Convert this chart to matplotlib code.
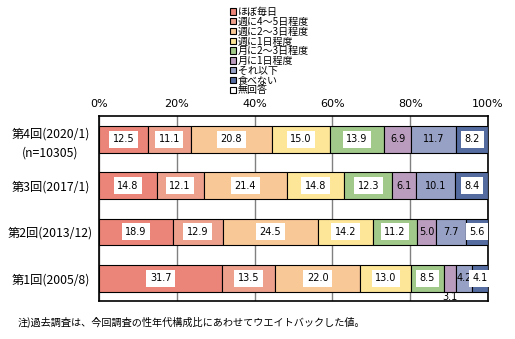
import matplotlib
matplotlib.use('Agg')
import matplotlib.pyplot as plt
import numpy as np

plt.rcParams['font.family'] = ['Noto Sans CJK JP', 'DejaVu Sans']

rounds = ['第1回(2005/8)', '第2回(2013/12)', '第3回(2017/1)', '第4回(2020/1)\n(n=10305)']
categories = ['ほぼ毎日', '週に4～5日程度', '週に2～3日程度', '週に1日程度',
              '月に2～3日程度', '月に1日程度', 'それ以下', '食べない', '無回答']
# rows follow rounds order (bottom to top)
values = [
    [31.7, 13.5, 22.0, 13.0, 8.5, 3.1, 4.2, 4.1, 0.0],
    [18.9, 12.9, 24.5, 14.2, 11.2, 5.0, 7.7, 5.6, 0.0],
    [14.8, 12.1, 21.4, 14.8, 12.3, 6.1, 10.1, 8.4, 0.0],
    [12.5, 11.1, 20.8, 15.0, 13.9, 6.9, 11.7, 8.2, 0.0],
]
colors = ['#EB8579', '#EDA18D', '#F9C897', '#FDE698', '#A0C98A',
          '#BA9CBE', '#97A1C6', '#556CA1', '#FFFFFF']
boxed = [True, True, True, True, True, False, False, True, False]
note = '注)過去調査は、今回調査の性年代構成比にあわせてウエイトバックした値。'

fig = plt.figure(figsize=(5.15, 3.39), dpi=100)
ax = fig.add_axes([99 / 515, 1 - 301 / 339, 389 / 515, 185 / 339])

y = np.arange(len(rounds))
left = np.zeros(len(rounds))
for j, cat in enumerate(categories):
    vals = np.array([row[j] for row in values])
    ax.barh(y, vals, left=left, height=0.577, color=colors[j], edgecolor='black',
            linewidth=1, label=cat, zorder=3)
    for i, v in enumerate(vals):
        if v <= 0:
            continue
        cx = left[i] + v / 2
        cy = y[i]
        if v < 3.5:
            # too thin, label goes under the bar
            ax.text(cx, y[i] - 0.4, f'{v:.1f}', ha='center', va='center', fontsize=7,
                    family='DejaVu Sans', zorder=5)
            continue
        kw = {}
        if boxed[j]:
            kw['bbox'] = dict(facecolor='white', edgecolor='none', pad=2.5)
        ax.text(cx, cy, f'{v:.1f}', ha='center', va='center', fontsize=7,
                family='DejaVu Sans', zorder=5, **kw)
    left += vals

ax.set_xlim(0, 100)
ax.set_ylim(-0.49, 3.5)
ax.set_yticks(y)
ax.set_yticklabels(rounds, fontsize=8.8, linespacing=1.6)
ax.tick_params(axis='y', length=0, pad=35)
for lbl in ax.get_yticklabels():
    lbl.set_horizontalalignment('center')
ax.set_xticks([0, 20, 40, 60, 80, 100])
ax.set_xticklabels(['0%', '20%', '40%', '60%', '80%', '100%'], fontsize=8, family='DejaVu Sans')
ax.xaxis.tick_top()
ax.tick_params(axis='x', length=0, pad=5)
ax.grid(axis='x', color='#808080', linewidth=1, zorder=0)
for s in ax.spines.values():
    s.set_linewidth(1.2)

handles, labels = ax.get_legend_handles_labels()
for h in handles:
    for p in h.patches:
        p.set_linewidth(0.8)
fig.legend(handles, labels, loc='upper left', bbox_to_anchor=(225 / 515, 1 - 2 / 339),
           frameon=False, fontsize=7.2, handlelength=0.6, handleheight=0.6,
           handletextpad=0.2, labelspacing=-0.02, borderpad=0)

fig.text(18 / 515, 1 - 322 / 339, note, fontsize=7.3, va='center', ha='left')

fig.savefig('out.png', dpi=100)
